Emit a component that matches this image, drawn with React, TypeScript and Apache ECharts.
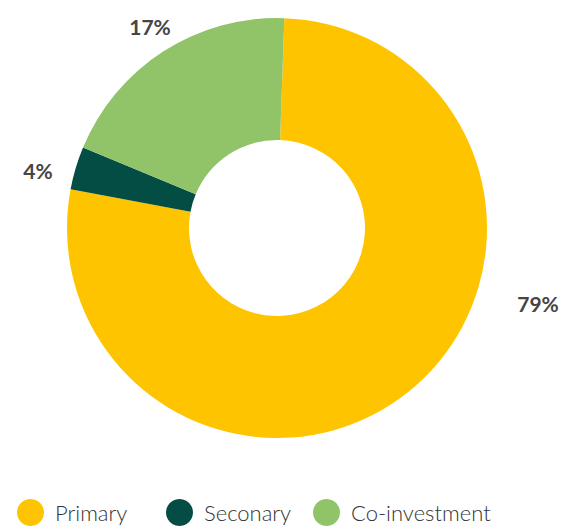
import React, { useEffect, useRef } from "react";
import * as echarts from "echarts";

const categories = ["Primary", "Seconary", "Co-investment"];
const values = [77.4, 3.3, 19.3];
const percentLabels = ["79%", "4%", "17%"];
const colors = ["#FEC400", "#044D44", "#91C468"];
const labelPositions: [number, number][] = [
  [538, 303],
  [38, 170],
  [150, 26],
];
const legendLefts = [17, 166, 313];

export default function App() {
  const ref = useRef<HTMLDivElement>(null);
  useEffect(() => {
    document.body.style.margin = "0";
    const chart = echarts.init(ref.current!, undefined, { renderer: "svg" });
    chart.setOption({
      animation: false,
      backgroundColor: "#ffffff",
      color: colors,
      legend: categories.map((name, i) => ({
        data: [name],
        left: legendLefts[i],
        top: 499,
        padding: 0,
        icon: "circle",
        itemWidth: 27,
        itemHeight: 27,
        textStyle: {
          fontFamily: "Lato",
          fontWeight: 300,
          fontSize: 22,
          color: "#333333",
          padding: [0, 0, 0, 6],
        },
      })),
      series: [
        {
          type: "pie",
          center: [277, 228],
          radius: [88, 210],
          startAngle: 88,
          clockwise: true,
          avoidLabelOverlap: false,
          itemStyle: { borderWidth: 0 },
          label: {
            show: true,
            position: "outside",
            formatter: (p: any) => percentLabels[p.dataIndex],
            fontFamily: "Lato",
            fontWeight: "bold",
            fontSize: 21,
            color: "#454545",
          },
          labelLine: { show: false },
          labelLayout: (p: any) => ({
            x: labelPositions[p.dataIndex][0],
            y: labelPositions[p.dataIndex][1],
            align: "center",
            verticalAlign: "middle",
          }),
          emphasis: { disabled: true },
          data: categories.map((name, i) => ({ name, value: values[i] })),
        },
      ],
    });
    return () => chart.dispose();
  }, []);
  return (
    <div
      ref={ref}
      style={{ width: 564, height: 531, position: "absolute", left: 0, top: 0 }}
    />
  );
}
